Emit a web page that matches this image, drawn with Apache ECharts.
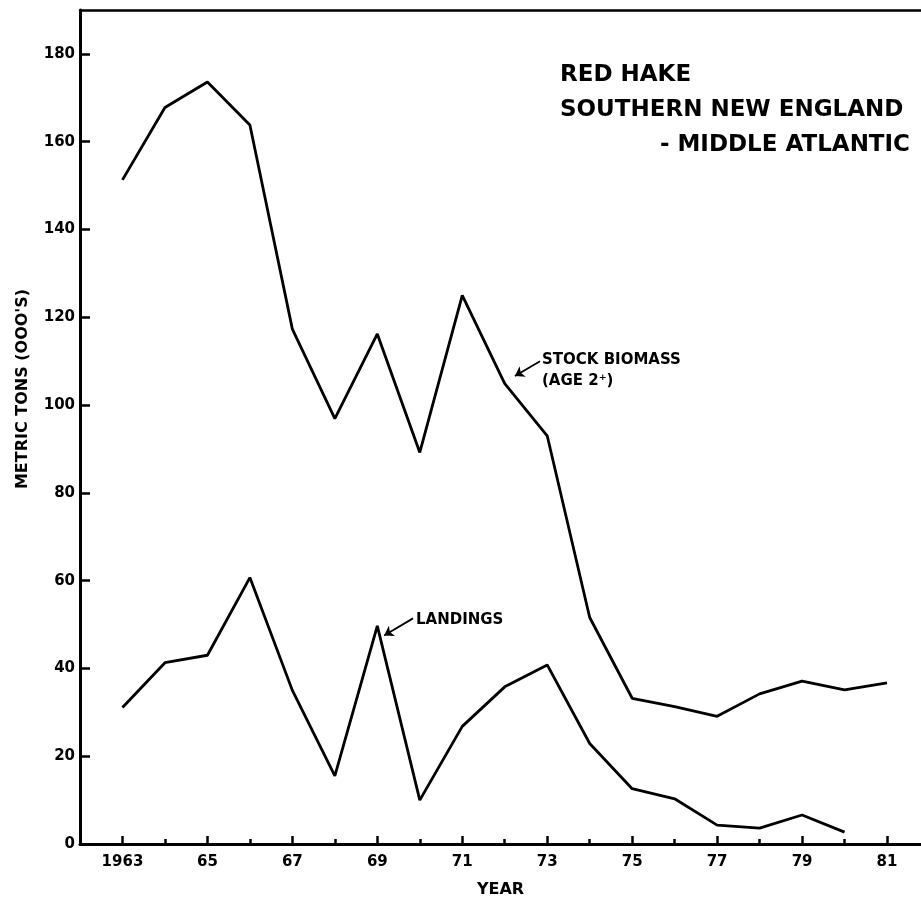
<!DOCTYPE html>
<html><head><meta charset="utf-8">
<script src="https://cdn.jsdelivr.net/npm/echarts@6/dist/echarts.min.js"></script>
<style>html,body{margin:0;padding:0;background:#fff}#c{width:921px;height:903px}</style>
</head><body><div id="c"></div>
<script>
// ---- data ----
const years = [1963,1964,1965,1966,1967,1968,1969,1970,1971,1972,1973,1974,1975,1976,1977,1978,1979,1980,1981];
const stockBiomass = [151.3,167.8,173.6,163.8,117.3,96.9,116.2,89.2,125.0,104.9,93.0,51.6,33.2,31.3,29.1,34.2,37.1,35.1,36.7];
const landingYears = [1963,1964,1965,1966,1967,1968,1969,1970,1971,1972,1973,1974,1975,1976,1977,1978,1979,1980];
const landings = [31.1,41.3,43.0,60.7,35.0,15.5,49.7,10.0,26.8,35.8,40.8,22.9,12.6,10.3,4.3,3.6,6.6,2.7];
const majorTickYears = [1963,1965,1967,1969,1971,1973,1975,1977,1979,1981];
const majorTickLabels = ['1963','65','67','69','71','73','75','77','79','81'];
const minorTickYears = [1964,1966,1968,1970,1972,1974,1976,1978,1980];
const yTickValues = [0,20,40,60,80,100,120,140,160,180];
const titleLines = ['RED HAKE','SOUTHERN NEW ENGLAND','- MIDDLE ATLANTIC'];
const biomassLabel = ['STOCK BIOMASS','(AGE 2\u207A)'];
const landingsLabel = 'LANDINGS';
// annotation arrows: [tail, tip] in data coordinates
const biomassArrow = [[1972.83,110.0],[1972.24,106.6]];
const landingsArrow = [[1969.84,51.4],[1969.16,47.5]];

const FONT = '"DejaVu Sans", sans-serif';
const chart = echarts.init(document.getElementById('c'), null, {renderer:'canvas'});

const labelMap = {};
majorTickYears.forEach((y,i)=>{ labelMap[y] = majorTickLabels[i]; });

function arrowLine(pair){
  return {silent:true,symbol:['none','arrow'],symbolSize:9,label:{show:false},emphasis:{disabled:true},
    lineStyle:{color:'#000',width:1.8,type:'solid'},
    data:[[{coord:pair[0],symbol:'none'},{coord:pair[1],symbol:'arrow',symbolSize:9}]]};
}

chart.setOption({
  animation:false,
  backgroundColor:'#fff',
  grid:{left:80,right:0,top:10,bottom:57},
  xAxis:[{
    type:'value', min:1962, max:1981.8, position:'bottom',
    axisLine:{show:true,lineStyle:{color:'#000',width:3}},
    axisTick:{show:true,inside:true,length:8,lineStyle:{color:'#000',width:2.5},customValues:majorTickYears},
    axisLabel:{show:true,margin:11,color:'#000',fontFamily:FONT,fontWeight:'bold',fontSize:15,
      customValues:majorTickYears, formatter:v=>labelMap[v]||''},
    splitLine:{show:false},
    name:'YEAR', nameLocation:'middle', nameGap:38,
    nameTextStyle:{color:'#000',fontFamily:FONT,fontWeight:'bold',fontSize:16}
  },{
    type:'value', min:1962, max:1981.8, position:'bottom',
    axisLine:{show:false},
    axisTick:{show:true,inside:true,length:5,lineStyle:{color:'#000',width:2.5},customValues:minorTickYears},
    axisLabel:{show:false}, splitLine:{show:false}
  },{
    type:'value', min:1962, max:1981.8, position:'top',
    axisLine:{show:true,lineStyle:{color:'#000',width:2.5}},
    axisTick:{show:false}, axisLabel:{show:false}, splitLine:{show:false}
  }],
  yAxis:{
    type:'value', min:0, max:190,
    axisLine:{show:true,lineStyle:{color:'#000',width:3}},
    axisTick:{show:true,inside:true,length:10,lineStyle:{color:'#000',width:2.5},customValues:yTickValues},
    axisLabel:{show:true,margin:5,color:'#000',fontFamily:FONT,fontWeight:'bold',fontSize:15,customValues:yTickValues},
    splitLine:{show:false}
  },
  series:[{
    name:'STOCK BIOMASS', type:'line', xAxisIndex:0, showSymbol:false, symbol:'none',
    lineStyle:{color:'#000',width:2.8}, data:years.map((y,i)=>[y,stockBiomass[i]]),
    markLine:arrowLine(biomassArrow)
  },{
    name:'LANDINGS', type:'line', xAxisIndex:0, showSymbol:false, symbol:'none',
    lineStyle:{color:'#000',width:2.8}, data:landingYears.map((y,i)=>[y,landings[i]]),
    markLine:arrowLine(landingsArrow)
  }],
  graphic:[
    {type:'text',x:23,y:389,rotation:Math.PI/2,style:{text:"METRIC TONS (OOO'S)",font:'bold 16px '+FONT,fill:'#000',textAlign:'center',textVerticalAlign:'middle',verticalAlign:'middle'}},
    {type:'text',x:560,y:75,style:{text:titleLines[0],font:'bold 23px '+FONT,fill:'#000',textAlign:'left',textVerticalAlign:'middle',verticalAlign:'middle'}},
    {type:'text',x:560,y:110,style:{text:titleLines[1],font:'bold 23px '+FONT,fill:'#000',textAlign:'left',textVerticalAlign:'middle',verticalAlign:'middle'}},
    {type:'text',x:910,y:145,style:{text:titleLines[2],font:'bold 23px '+FONT,fill:'#000',textAlign:'right',textVerticalAlign:'middle',verticalAlign:'middle'}},
    {type:'text',x:542,y:360,style:{text:biomassLabel[0],font:'bold 15px '+FONT,fill:'#000',textAlign:'left',textVerticalAlign:'middle',verticalAlign:'middle'}},
    {type:'text',x:542,y:381,style:{text:biomassLabel[1],font:'bold 15px '+FONT,fill:'#000',textAlign:'left',textVerticalAlign:'middle',verticalAlign:'middle'}},
    {type:'text',x:416,y:620,style:{text:landingsLabel,font:'bold 15px '+FONT,fill:'#000',textAlign:'left',textVerticalAlign:'middle',verticalAlign:'middle'}}
  ]
});
</script></body></html>
